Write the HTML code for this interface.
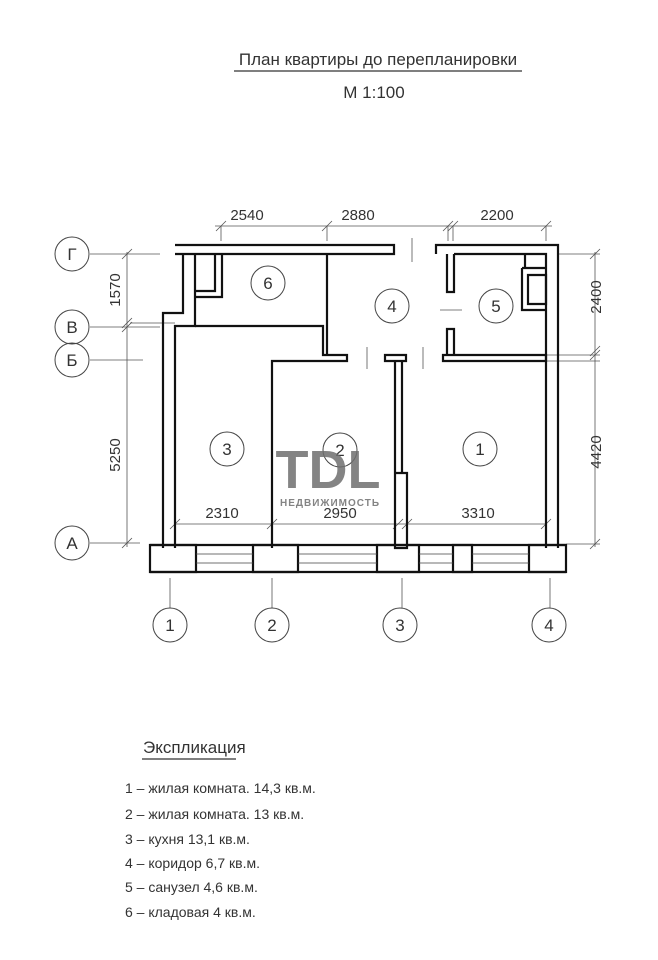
<!DOCTYPE html>
<html><head><meta charset="utf-8"><style>
html,body{margin:0;padding:0;background:#fff}
svg{display:block}
text{font-family:"Liberation Sans","DejaVu Sans",sans-serif;fill:#333}
</style></head><body>
<svg width="658" height="960" viewBox="0 0 658 960" xmlns="http://www.w3.org/2000/svg">
<rect width="658" height="960" fill="#fff"/>
<!-- title -->
<text x="378" y="65" font-size="17" text-anchor="middle">План квартиры до перепланировки</text>
<line x1="234" y1="71" x2="522" y2="71" stroke="#333" stroke-width="1.2"/>
<text x="374" y="98" font-size="17" text-anchor="middle">М 1:100</text>

<g stroke="#222" fill="none">
<g stroke-width="0.8" stroke="#555">
<line x1="215" y1="226" x2="552" y2="226"/>
<line x1="221" y1="226" x2="221" y2="241"/><line x1="327" y1="226" x2="327" y2="241"/>
<line x1="448" y1="226" x2="448" y2="241"/><line x1="453" y1="226" x2="453" y2="241"/>
<line x1="546" y1="226" x2="546" y2="241"/>
<line x1="127" y1="252" x2="127" y2="547"/>
<line x1="90" y1="254" x2="160" y2="254"/>
<line x1="90" y1="327" x2="160" y2="327"/>
<line x1="130" y1="323" x2="175" y2="323"/>
<line x1="90" y1="360" x2="143" y2="360"/>
<line x1="90" y1="543" x2="140" y2="543"/>
<line x1="595" y1="252" x2="595" y2="547"/>
<line x1="558" y1="254" x2="600" y2="254"/>
<line x1="546" y1="355" x2="600" y2="355"/><line x1="546" y1="361" x2="600" y2="361"/>
<line x1="566" y1="544" x2="600" y2="544"/>
<line x1="175" y1="524" x2="546" y2="524"/>
<line x1="170" y1="578" x2="170" y2="608"/>
<line x1="272" y1="578" x2="272" y2="608"/>
<line x1="402" y1="578" x2="402" y2="608"/>
<line x1="550" y1="578" x2="550" y2="608"/>
<line x1="412" y1="238" x2="412" y2="262"/>
<line x1="367" y1="347" x2="367" y2="369"/><line x1="423" y1="347" x2="423" y2="369"/>
<line x1="440" y1="310" x2="462" y2="310"/>
<path d="M216 231L226 221M322 231L332 221M443 231L453 221M448 231L458 221M541 231L551 221M122 259L132 249M122 328L132 318M122 332L132 322M122 548L132 538M590 259L600 249M590 356L600 346M590 360L600 350M590 549L600 539M170 529L180 519M267 529L277 519M393 529L403 519M402 529L412 519M541 529L551 519"/>
</g>
<g stroke-width="1" stroke="#444">
<circle cx="72" cy="254" r="17"/><circle cx="72" cy="327" r="17"/><circle cx="72" cy="360" r="17"/><circle cx="72" cy="543" r="17"/>
<circle cx="170" cy="625" r="17"/><circle cx="272" cy="625" r="17"/><circle cx="400" cy="625" r="17"/><circle cx="549" cy="625" r="17"/>
<circle cx="227" cy="449" r="17"/><circle cx="340" cy="450" r="17"/><circle cx="480" cy="449" r="17"/>
<circle cx="268" cy="283" r="17"/><circle cx="392" cy="306" r="17"/><circle cx="496" cy="306" r="17"/>
</g>
<g stroke-width="2.2" stroke="#111">
<path d="M175 245H394V254H175M436 254V245H558V548M546 548V254H454"/>
<path d="M183 254V313H163V548M195 254V326H175V548"/>
<path d="M195 326H323V355H347V361H272V548"/>
<path d="M327 254V355"/>
<path d="M385 355H406V361H385Z"/>
<path d="M443 355H546V361H443Z"/>
<path d="M447 254V292H454V254M447 355V329H454V355"/>
<path d="M522 268H546M522 268V310H546M528 275H546V304H528Z"/>
<path d="M525 254V268"/>
<path d="M195 291H215V254M195 297H222V254"/>
<path d="M395 361V473M402 361V473M395 473H407V548H395Z"/>
<path d="M150 545H566M150 572H566"/>
<rect x="150" y="545" width="46" height="27"/><rect x="253" y="545" width="45" height="27"/>
<rect x="377" y="545" width="42" height="27"/><rect x="453" y="545" width="19" height="27"/>
<rect x="529" y="545" width="37" height="27"/>
</g>
<g stroke-width="0.8" stroke="#444"><path d="M196 554H253M196 563H253M298 554H377M298 563H377M419 554H453M419 563H453M472 554H529M472 563H529"/></g>
</g>
<g font-size="15" text-anchor="middle">
<text x="247" y="220">2540</text><text x="358" y="220">2880</text><text x="497" y="220">2200</text>
<text x="222" y="518">2310</text><text x="340" y="518">2950</text><text x="478" y="518">3310</text>
<text transform="translate(120 290) rotate(-90)">1570</text>
<text transform="translate(120 455) rotate(-90)">5250</text>
<text transform="translate(601 297) rotate(-90)">2400</text>
<text transform="translate(601 452) rotate(-90)">4420</text>
</g>
<g font-size="17" text-anchor="middle">
<text x="72" y="260">Г</text><text x="72" y="333">В</text><text x="72" y="366">Б</text><text x="72" y="549">А</text>
<text x="170" y="631">1</text><text x="272" y="631">2</text><text x="400" y="631">3</text><text x="549" y="631">4</text>
<text x="227" y="455">3</text><text x="340" y="456">2</text><text x="480" y="455">1</text>
<text x="268" y="289">6</text><text x="392" y="312">4</text><text x="496" y="312">5</text>
</g>
<g opacity="0.85">
<text x="328" y="488" font-size="54" font-weight="bold" text-anchor="middle" style="fill:#6f6f6f">TDL</text>
<text x="330" y="506" font-size="10" font-weight="bold" text-anchor="middle" letter-spacing="1" style="fill:#6f6f6f">НЕДВИЖИМОСТЬ</text>
</g>
<text x="143" y="753" font-size="17">Экспликация</text>
<line x1="142" y1="759" x2="236" y2="759" stroke="#333" stroke-width="1.2"/>
<g font-size="14">
<text x="125" y="793">1 – жилая комната. 14,3 кв.м.</text>
<text x="125" y="819">2 – жилая комната. 13 кв.м.</text>
<text x="125" y="844">3 – кухня 13,1 кв.м.</text>
<text x="125" y="868">4 – коридор 6,7 кв.м.</text>
<text x="125" y="892">5 – санузел 4,6 кв.м.</text>
<text x="125" y="917">6 – кладовая 4 кв.м.</text>
</g>
</svg>
</body></html>
